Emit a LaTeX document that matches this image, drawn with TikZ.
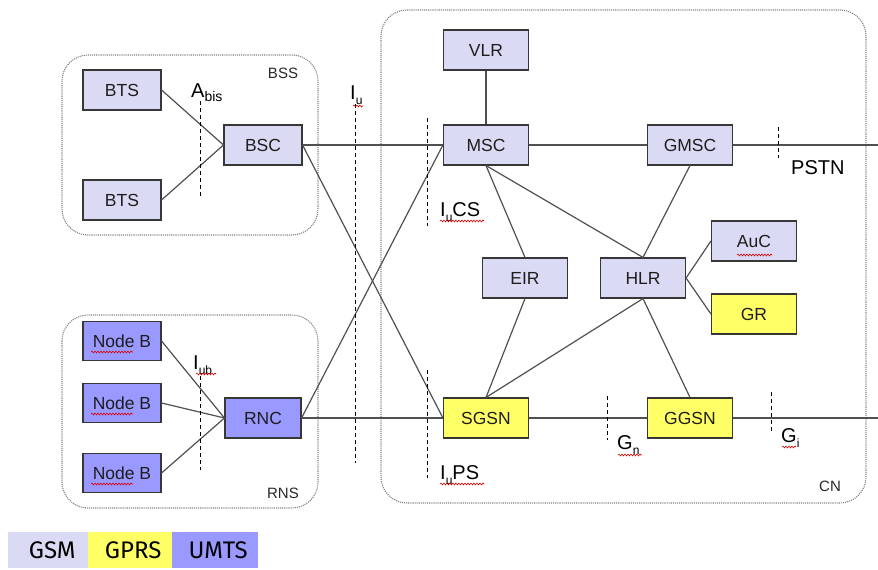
\documentclass[tikz,border=0pt]{standalone}
\usepackage{fontspec}
\setmainfont{Liberation Sans}
\newfontfamily\legendfont{Fira Sans}
\usetikzlibrary{decorations.pathmorphing}
\definecolor{gsmcol}{RGB}{218,218,244}
\definecolor{gprscol}{RGB}{255,255,102}
\definecolor{umtscol}{RGB}{153,153,255}
\definecolor{edgecol}{RGB}{80,80,80}
\definecolor{framecol}{RGB}{130,130,130}
\tikzset{
  unit/.style={draw={rgb,255:red,55;green,55;blue,55}, line width=1.1pt,
    minimum width=85pt, minimum height=40pt, inner sep=0pt,
    font=\fontsize{17.5}{17.5}\selectfont, text={rgb,255:red,30;green,30;blue,30}},
  gsm/.style={unit, fill=gsmcol},
  gprs/.style={unit, fill=gprscol},
  umts/.style={unit, fill=umtscol},
  link/.style={draw=edgecol, line width=1.2pt},
  iface/.style={draw=black, line width=0.9pt, dash pattern=on 4pt off 3pt},
  netframe/.style={draw=framecol, line width=1.1pt, densely dotted, rounded corners=26pt},
  lbl/.style={font=\fontsize{20}{20}\selectfont, inner sep=0pt, anchor=base west},
  grouplbl/.style={font=\fontsize{15}{15}\selectfont, inner sep=0pt, text={rgb,255:red,40;green,40;blue,40}},
  spell/.style={draw=red!85!black, line width=0.6pt, decorate,
    decoration={snake, amplitude=0.9pt, segment length=3pt}},
  legend/.style={font=\legendfont\fontsize{24}{24}\selectfont, minimum height=36pt,
    inner sep=0pt, anchor=west}
}
\begin{document}
\begin{tikzpicture}[x=1pt, y=-1pt]
\useasboundingbox (0,0) rectangle (878,570);

% network frames
\draw[netframe] (62,55) rectangle (318,235);
\draw[netframe] (62,315) rectangle (318,508);
\draw[netframe] (381,10) rectangle (866,503);
\node[grouplbl] (bsslbl) at (283,73) {BSS};
\node[grouplbl] (rnslbl) at (283,493) {RNS};
\node[grouplbl] (cnlbl) at (830,486) {CN};

% access network
\node[gsm, minimum width=78pt] (bts1) at (122,90) {BTS};
\node[gsm, minimum width=78pt] (bts2) at (122,200) {BTS};
\node[gsm, minimum width=78pt] (bsc) at (263,145) {BSC};
\node[umts, minimum width=78pt, minimum height=39pt] (nb1) at (122,341) {Node B};
\node[umts, minimum width=78pt, minimum height=39pt] (nb2) at (122,403) {Node B};
\node[umts, minimum width=78pt, minimum height=39pt] (nb3) at (122,473) {Node B};
\node[umts, minimum width=76pt] (rnc) at (263,418) {RNC};

% core network
\node[gsm] (vlr) at (486,50) {VLR};
\node[gsm] (msc) at (486,145) {MSC};
\node[gsm] (gmsc) at (690,145) {GMSC};
\node[gsm] (eir) at (525,278) {EIR};
\node[gsm] (hlr) at (643,278) {HLR};
\node[gsm] (auc) at (754,241) {AuC};
\node[gprs] (gr) at (754,314) {GR};
\node[gprs] (sgsn) at (486,418) {SGSN};
\node[gprs] (ggsn) at (690,418) {GGSN};

\coordinate (pstn) at (878,145);
\coordinate (pdn) at (878,418);

% connections
\draw[link] (bts1.east) -- (bsc.west);
\draw[link] (bts2.east) -- (bsc.west);
\draw[link] (nb1.east) -- (rnc.west);
\draw[link] (nb2.east) -- (rnc.west);
\draw[link] (nb3.east) -- (rnc.west);
\draw[link] (bsc.east) -- (msc.west);
\draw[link] (bsc.east) -- (sgsn.west);
\draw[link] (rnc.east) -- (msc.west);
\draw[link] (rnc.east) -- (sgsn.west);
\draw[link] (vlr.south) -- (msc.north);
\draw[link] (msc.east) -- (gmsc.west);
\draw[link] (gmsc.east) -- (pstn);
\draw[link] (msc.south) -- (eir.north);
\draw[link] (msc.south) -- (hlr.north);
\draw[link] (gmsc.south) -- (hlr.north);
\draw[link] (hlr.east) -- (auc.west);
\draw[link] (hlr.east) -- (gr.west);
\draw[link] (eir.south) -- (sgsn.north);
\draw[link] (hlr.south) -- (sgsn.north);
\draw[link] (hlr.south) -- (ggsn.north);
\draw[link] (sgsn.east) -- (ggsn.west);
\draw[link] (ggsn.east) -- (pdn);

% interface markers
\draw[iface] (200,101) -- (200,196);
\draw[iface] (200,376) -- (200,470);
\draw[iface] (355,104) -- (355,463);
\draw[iface] (427,118) -- (427,226);
\draw[iface] (427,370) -- (427,478);
\draw[iface] (607,396) -- (607,440);
\draw[iface] (771,392) -- (771,432);
\draw[iface] (778,127) -- (778,158);

% interface labels
\node[lbl] (abis) at (191,97) {A\raisebox{-0.45ex}{\fontsize{14}{14}\selectfont bis}};
\node[lbl] (iu) at (350,99) {I\raisebox{-0.5ex}{\fontsize{12}{12}\selectfont u}};
\node[lbl] (iub) at (193,369) {I\raisebox{-0.5ex}{\fontsize{12}{12}\selectfont ub}};
\node[lbl] (iucs) at (440,216) {I\raisebox{-0.5ex}{\fontsize{12}{12}\selectfont u}CS};
\node[lbl] (iups) at (440,479) {I\raisebox{-0.5ex}{\fontsize{12}{12}\selectfont u}PS};
\node[lbl] (gn) at (617,449) {G\raisebox{-0.5ex}{\fontsize{12}{12}\selectfont n}};
\node[lbl] (gi) at (781,442) {G\raisebox{-0.5ex}{\fontsize{12}{12}\selectfont i}};
\node[lbl] (pstnlbl) at (791,174) {PSTN};

% spell-check underlines
\draw[spell] (353,106) -- (363,106);
\draw[spell] (196,374) -- (216,374);
\draw[spell] (440,221) -- (484,221);
\draw[spell] (440,484) -- (484,484);
\draw[spell] (618,455) -- (642,455);
\draw[spell] (782,447) -- (796,447);
\draw[spell] (737,255) -- (772,255);
\draw[spell] (91,352) -- (133,352);
\draw[spell] (91,414) -- (133,414);
\draw[spell] (91,484) -- (133,484);

% legend
\node[legend, fill=gsmcol, minimum width=80pt] (lgsm) at (8,550) {\hspace{8pt}GSM};
\node[legend, fill=gprscol, minimum width=84pt] (lgprs) at (88,550) {\hspace{6pt}GPRS};
\node[legend, fill=umtscol, minimum width=86pt] (lumts) at (172,550) {\hspace{6pt}UMTS};
\end{tikzpicture}
\end{document}
